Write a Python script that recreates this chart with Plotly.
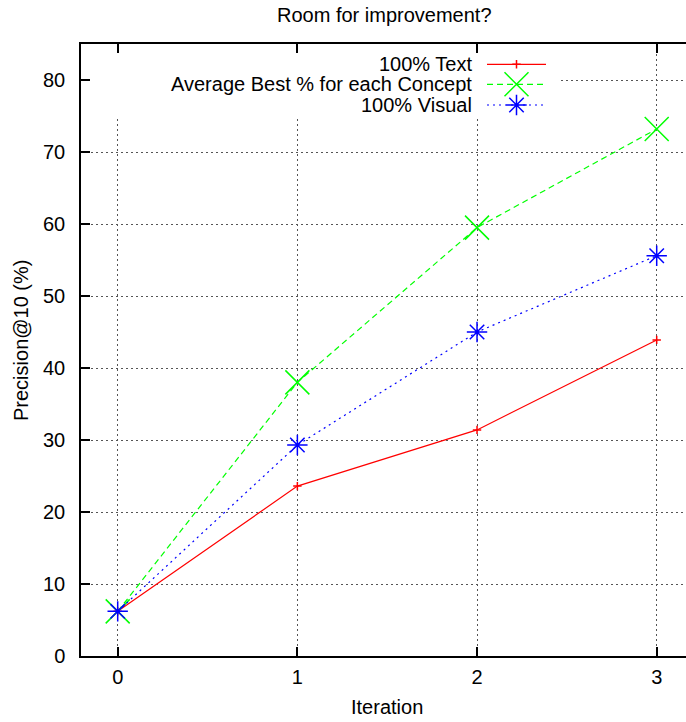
import plotly.graph_objects as go

# ---- data ----
iterations = [0, 1, 2, 3]
text_only = [6.2, 23.6, 31.4, 43.9]
avg_best = [6.2, 38.0, 59.5, 73.2]
visual_only = [6.2, 29.3, 45.0, 55.6]
series_names = ["100% Text", "Average Best % for each Concept", "100% Visual"]
y_tick_vals = [0, 10, 20, 30, 40, 50, 60, 70, 80]
x_tick_vals = [0, 1, 2, 3]
title_text = "Room for improvement?"
x_title = "Iteration"
y_title = "Precision@10 (%)"

# ---- layout geometry (pixels) ----
W, H = 686, 722


def fx(px):
    return px / W


def fy(py):
    return 1 - py / H


L, T, B = 81, 44, 656            # plot area edges
X0_PX, X3_PX = 117.7, 656.7
ppu = (X3_PX - X0_PX) / 3.0
x_lo = 0 - (X0_PX - L) / ppu
x_hi = 3 + (W - X3_PX) / ppu
Y_TOP = 85.0
ppy = (B - T) / Y_TOP

FONT = dict(family="Liberation Sans, Arial, Helvetica, sans-serif", size=20, color="black")

styles = [
    dict(color="#ff0000", dash="solid", symbol="cross-thin", size=6),
    dict(color="#00ff00", dash="6px,4px", symbol="x-thin", size=24),
    dict(color="#0000ff", dash="2px,4px", symbol="asterisk", size=17),
]
series = [text_only, avg_best, visual_only]

fig = go.Figure()

# opaque key box hiding the grid (drawn as the first trace: above grid, below data)
bx0, bx1 = x_lo, x_lo + (558 - L) / ppu
by0, by1 = (B - 117) / ppy, Y_TOP
fig.add_trace(go.Scatter(
    x=[bx0, bx1, bx1, bx0, bx0], y=[by0, by0, by1, by1, by0],
    mode="none", fill="toself", fillcolor="white",
    showlegend=False, hoverinfo="skip", xaxis="x", yaxis="y",
))

for name, vals, st in zip(series_names, series, styles):
    fig.add_trace(go.Scatter(
        x=iterations, y=vals, name=name, mode="lines+markers",
        line=dict(color=st["color"], width=1.2, dash=st["dash"]),
        marker=dict(symbol=st["symbol"], size=st["size"], color=st["color"],
                    line=dict(color=st["color"], width=1.5)),
        showlegend=False, xaxis="x", yaxis="y",
    ))

# ---- custom gnuplot-style key (text left, sample right) ----
key_rows = [64.3, 84.3, 105.0]
key_x0, key_x1 = 487, 546
key_text_right = 474
for name, st, ry in zip(series_names, styles, key_rows):
    fig.add_trace(go.Scatter(
        x=[key_x0, key_x1], y=[ry, ry], mode="lines",
        line=dict(color=st["color"], width=1.2, dash=st["dash"]),
        showlegend=False, xaxis="x2", yaxis="y2", hoverinfo="skip",
    ))
    fig.add_trace(go.Scatter(
        x=[(key_x0 + key_x1) / 2], y=[ry], mode="markers",
        marker=dict(symbol=st["symbol"], size=st["size"], color=st["color"],
                    line=dict(color=st["color"], width=1.5)),
        showlegend=False, xaxis="x2", yaxis="y2", hoverinfo="skip",
    ))
    fig.add_annotation(
        x=fx(key_text_right), y=fy(ry), xref="paper", yref="paper",
        text=name, showarrow=False, xanchor="right", yanchor="middle", font=FONT,
    )

# titles
fig.add_annotation(x=fx(385), y=fy(15), xref="paper", yref="paper",
                   text=title_text, showarrow=False, xanchor="center", yanchor="middle", font=FONT)
fig.add_annotation(x=fx(387), y=fy(707), xref="paper", yref="paper",
                   text=x_title, showarrow=False, xanchor="center", yanchor="middle", font=FONT)
fig.add_annotation(x=fx(21), y=fy(341), xref="paper", yref="paper",
                   text=y_title, showarrow=False, textangle=-90,
                   xanchor="center", yanchor="middle", font=FONT)

axis_common = dict(
    showline=True, linecolor="black", linewidth=1.5,
    ticks="inside", ticklen=9, tickwidth=1.5, tickcolor="black",
    showgrid=True, gridcolor="#555555", gridwidth=1, griddash="2px,3px",
    zeroline=False, tickfont=FONT, automargin=False,
)

fig.update_layout(
    template="none",
    width=W, height=H, autosize=False,
    margin=dict(l=0, r=0, t=0, b=0, pad=0, autoexpand=False),
    paper_bgcolor="white", plot_bgcolor="rgba(0,0,0,0)",
    showlegend=False,
    xaxis=dict(domain=[fx(L), 1], range=[x_lo, x_hi], tickvals=x_tick_vals,
               mirror="ticks", anchor="y", ticklabelstandoff=2, **axis_common),
    yaxis=dict(domain=[fy(B), fy(T)], range=[0, Y_TOP], tickvals=y_tick_vals,
               mirror=False, anchor="x", ticklabelstandoff=10, **axis_common),
    xaxis2=dict(domain=[0, 1], range=[0, W], visible=False, anchor="y2",
                fixedrange=True, automargin=False),
    yaxis2=dict(domain=[0, 1], range=[H, 0], visible=False, anchor="x2",
                fixedrange=True, automargin=False),
)

fig.write_html(
    "out.html",
    config={"displayModeBar": False},
    post_script="document.body.style.margin='0';document.body.style.overflow='hidden';",
)
